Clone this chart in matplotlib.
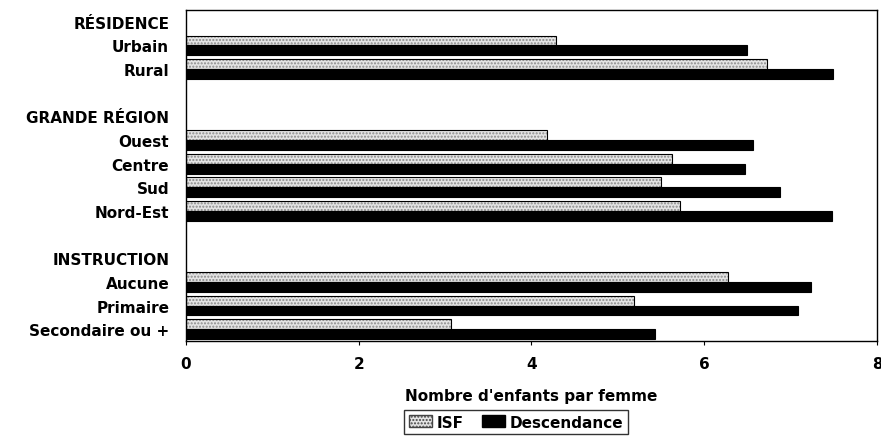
import numpy as np
import matplotlib.pyplot as plt
from matplotlib.patches import Patch

# rows from top to bottom; group headers have no bars
labels = ['RÉSIDENCE', 'Urbain', 'Rural', '',
          'GRANDE RÉGION', 'Ouest', 'Centre', 'Sud', 'Nord-Est', '',
          'INSTRUCTION', 'Aucune', 'Primaire', 'Secondaire ou +']
isf = [np.nan, 4.28, 6.73, np.nan,
       np.nan, 4.18, 5.63, 5.50, 5.72, np.nan,
       np.nan, 6.28, 5.19, 3.07]
descendance = [np.nan, 6.49, 7.49, np.nan,
               np.nan, 6.57, 6.47, 6.88, 7.48, np.nan,
               np.nan, 7.23, 7.09, 5.43]

plt.rcParams['font.family'] = ['DejaVu Sans']
plt.rcParams['font.weight'] = 'bold'

fig = plt.figure(figsize=(8.81, 4.39), dpi=100)
ax = fig.add_axes([0.211, 0.221, 0.7845, 0.754])

y = np.arange(len(labels))
h = 0.42
# ISF: stippled light grey with black outline
ax.barh(y - h / 2, isf, height=h, color='#e4e4e4', hatch='.....',
        edgecolor='#8a8a8a', linewidth=0)
ax.barh(y - h / 2, isf, height=h, fill=False, edgecolor='black', linewidth=0.8)
ax.barh(y + h / 2, descendance, height=h, color='black', edgecolor='black', linewidth=0.8)

ax.set_ylim(len(labels) - 0.5, -0.5)
ax.set_xlim(0, 8)
ax.set_xticks([0, 2, 4, 6, 8])
ax.set_yticks(y)
ax.set_yticklabels(labels, fontsize=11, fontweight='bold')
ax.tick_params(axis='y', length=0, pad=12)
ax.tick_params(axis='x', length=3, pad=8, labelsize=11)
for lab in ax.get_xticklabels():
    lab.set_fontweight('bold')
for s in ax.spines.values():
    s.set_linewidth(1.0)

ax.set_xlabel("Nombre d'enfants par femme", fontsize=11, fontweight='bold', labelpad=12)

handles = [Patch(facecolor='#e4e4e4', hatch='.....', edgecolor='#444444', label='ISF'),
           Patch(facecolor='black', edgecolor='black', label='Descendance')]
leg = fig.legend(handles=handles, loc='upper center', bbox_to_anchor=(516 / 881, 1 - 411 / 439),
                 ncol=2, frameon=True, fancybox=False, fontsize=11,
                 handlelength=1.5, handleheight=0.8, handletextpad=0.3, columnspacing=1.2,
                 borderpad=0.3, borderaxespad=0)
leg.get_frame().set_edgecolor('black')
leg.get_frame().set_linewidth(1.0)
for t in leg.get_texts():
    t.set_fontweight('bold')

fig.savefig('out.png', dpi=100)
